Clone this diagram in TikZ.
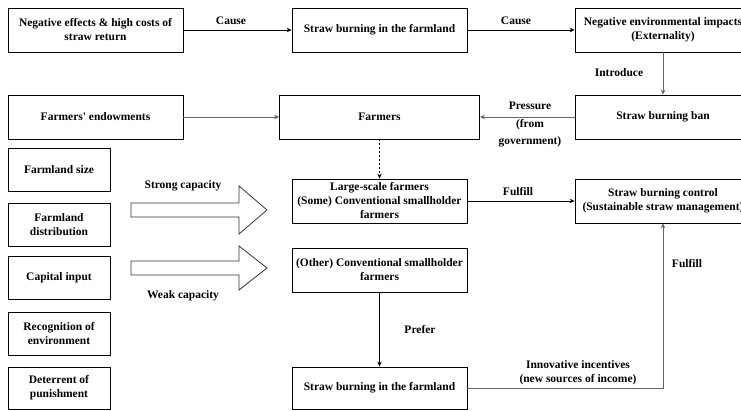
\documentclass[tikz,border=0pt]{standalone}
\usepackage{fontspec}
\setmainfont{Liberation Serif}
\usetikzlibrary{arrows.meta}
\begin{document}
\begin{tikzpicture}[x=1pt,y=-1pt,
 box/.style={draw, line width=0.8pt, align=center, font=\fontsize{11.5}{14}\selectfont\bfseries, inner sep=0pt, minimum height=44pt},
 lbl/.style={font=\fontsize{11.5}{14}\selectfont\bfseries, align=center, inner sep=0pt},
 arr/.style={-{Stealth[length=5pt,width=4.5pt]}, line width=0.7pt},
 garr/.style={arr, draw=black!60},
 blk/.style={draw=black!80, line width=0.8pt, fill=white}
]
\useasboundingbox (0,0) rectangle (741,410);
\clip (0,0) rectangle (741,410);
% top row
\node[box, minimum width=175pt] (neg) at (95.5,30) {Negative effects \& high costs of\\straw return};
\node[box, minimum width=175pt] (burn1) at (379.5,30) {Straw burning in the farmland};
\node[box, minimum width=176pt] (env) at (663,30) {Negative environmental impacts\\(Externality)};
% second row
\node[box, minimum width=175pt] (endow) at (95.5,117) {Farmers\textquotesingle{} endowments};
\node[box, minimum width=200pt] (farmers) at (379.5,117) {Farmers};
\node[box, minimum width=176pt] (ban) at (663,117) {Straw burning ban};
% left column
\node[box, minimum width=102pt, minimum height=43pt] (size) at (59,170) {Farmland size};
\node[box, minimum width=102pt, minimum height=43pt] (dist) at (59,224.5) {Farmland\\distribution};
\node[box, minimum width=102pt, minimum height=43pt] (cap) at (59,278) {Capital input};
\node[box, minimum width=102pt, minimum height=43pt] (recog) at (59,333.5) {Recognition of\\environment};
\node[box, minimum width=102pt, minimum height=42pt] (deter) at (59,388) {Deterrent of\\punishment};
% middle
\node[box, minimum width=175pt] (large) at (379.5,201) {Large-scale farmers\\(Some) Conventional smallholder\\farmers};
\node[box, minimum width=175pt] (other) at (379.5,270) {(Other) Conventional smallholder\\farmers};
\node[box, minimum width=175pt, minimum height=42pt] (burn2) at (379.5,388) {Straw burning in the farmland};
\node[box, minimum width=176pt] (control) at (663,201) {Straw burning control\\(Sustainable straw management)};
% block arrows
\draw[blk] (131,203) -- (239,203) -- (239,186) -- (267,210) -- (239,234) -- (239,217) -- (131,217) -- cycle;
\draw[blk] (131,261) -- (239,261) -- (239,246) -- (267,268) -- (239,290) -- (239,275) -- (131,275) -- cycle;
% connectors
\draw[arr] (neg) -- (burn1);
\draw[arr] (burn1) -- (env);
\draw[garr] (env) -- (ban);
\draw[garr] (endow) -- (farmers);
\draw[garr] (ban) -- (farmers);
\draw[arr, dash pattern=on 2pt off 2pt] (farmers) -- (large);
\draw[arr] (large) -- (control);
\draw[arr] (other) -- (burn2);
\draw[garr] (burn2.east) -| (control.south);
% labels
\node[lbl] (l1) at (231,21) {Cause};
\node[lbl] (l2) at (516,21) {Cause};
\node[lbl] (l3) at (619,73) {Introduce};
\node[lbl] (l4) at (530,106) {Pressure};
\node[lbl] (l5) at (530,125) {(from};
\node[lbl] (l6) at (530,142) {government)};
\node[lbl] (l7) at (183,186) {Strong capacity};
\node[lbl] (l8) at (183,296) {Weak capacity};
\node[lbl] (l9) at (518,192) {Fulfill};
\node[lbl] (l10) at (687,264) {Fulfill};
\node[lbl] (l11) at (420,329) {Prefer};
\node[lbl] (l12) at (578,373) {Innovative incentives\\(new sources of income)};
\end{tikzpicture}
\end{document}
